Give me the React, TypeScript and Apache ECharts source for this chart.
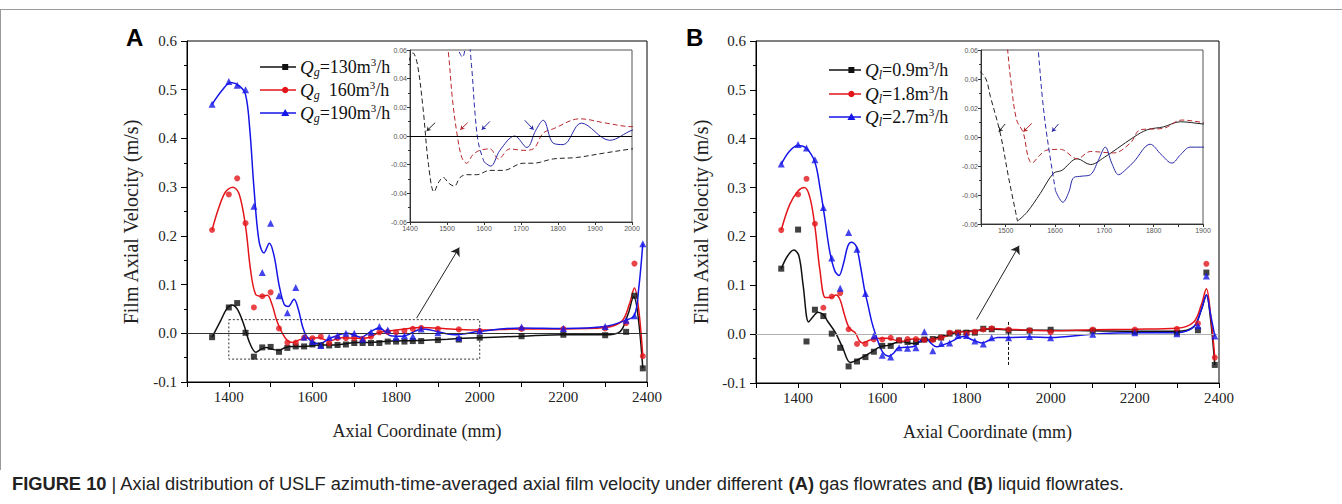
import React, { useEffect, useRef } from 'react';
import * as echarts from 'echarts';

// ---------- DATA ----------
const xPos = [1360, 1400, 1420, 1440, 1460, 1480, 1500, 1520, 1540, 1560, 1580, 1600, 1620, 1640, 1660, 1680, 1700, 1720, 1740, 1760, 1780, 1800, 1820, 1840, 1860, 1900, 1950, 2000, 2100, 2200, 2300, 2350, 2370, 2390];

// Panel A (gas flowrates) measured points
const blackA = [-0.008, 0.053, 0.062, 0.001, -0.048, -0.029, -0.028, -0.038, -0.030, -0.027, -0.027, -0.023, -0.025, -0.025, -0.024, -0.023, -0.020, -0.020, -0.020, -0.020, -0.017, -0.017, -0.017, -0.016, -0.016, -0.014, -0.013, -0.009, -0.006, -0.003, -0.004, 0.003, 0.077, -0.072];
const redA = [0.212, 0.285, 0.318, 0.226, 0.053, 0.076, 0.084, 0.010, -0.019, -0.019, -0.009, -0.010, -0.007, -0.020, -0.010, -0.010, -0.010, -0.012, -0.007, 0.002, 0.003, 0.002, 0.005, 0.009, 0.011, 0.009, 0.008, 0.005, 0.009, 0.009, 0.010, 0.021, 0.143, -0.047];
const blueA = [0.470, 0.517, 0.509, 0.500, 0.261, 0.125, 0.226, 0.077, 0.042, 0.094, -0.008, -0.017, -0.025, -0.008, -0.005, 0.000, 0.000, -0.012, 0.002, 0.014, 0.007, -0.008, -0.005, -0.006, 0.009, 0.001, -0.009, 0.005, 0.013, 0.010, 0.014, 0.027, 0.036, 0.184];

// Panel B (liquid flowrates) measured points
const blackB = [0.134, 0.214, -0.015, 0.050, 0.037, 0.001, -0.028, -0.066, -0.056, -0.047, -0.036, -0.024, -0.024, -0.013, -0.016, -0.016, -0.011, -0.010, -0.007, 0.001, 0.003, 0.003, 0.003, 0.011, 0.010, 0.007, 0.007, 0.009, 0.007, 0.005, 0.003, 0.008, 0.126, -0.063];
const redB = [0.213, 0.286, 0.318, 0.226, 0.054, 0.077, 0.084, 0.010, -0.020, -0.020, -0.011, -0.011, -0.0075, -0.012, -0.010, -0.010, -0.012, -0.012, -0.007, 0.003, 0.003, 0.001, 0.005, 0.0095, 0.012, 0.0095, 0.008, 0.004, 0.0095, 0.0095, 0.011, 0.022, 0.144, -0.048];
const blueB = [0.348, 0.388, 0.381, 0.357, 0.259, 0.156, 0.094, 0.208, 0.174, 0.083, -0.004, -0.043, -0.047, -0.028, -0.029, -0.028, 0.005, -0.034, -0.019, -0.018, -0.003, -0.003, -0.014, -0.020, -0.0075, -0.0075, -0.005, -0.0075, 0.000, 0.003, 0.001, 0.017, 0.119, -0.004];

// Fitted curves [x, v]
const blackFitA = [[1360, -0.008], [1380, 0.025], [1395, 0.05], [1408, 0.058], [1420, 0.05], [1435, 0.02], [1450, -0.02], [1465, -0.039], [1478, -0.032], [1490, -0.029], [1505, -0.033], [1520, -0.035], [1535, -0.029], [1553, -0.027], [1580, -0.027], [1616, -0.024], [1652, -0.024], [1706, -0.019], [1733, -0.019], [1787, -0.016], [1850, -0.015], [1923, -0.012], [2000, -0.009], [2100, -0.006], [2200, -0.003], [2300, -0.003], [2335, 0.003], [2355, 0.04], [2368, 0.075], [2378, 0.04], [2390, -0.072]];
const redFitA = [[1360, 0.212], [1375, 0.255], [1392, 0.290], [1410, 0.300], [1425, 0.285], [1440, 0.22], [1452, 0.13], [1464, 0.08], [1478, 0.076], [1492, 0.078], [1503, 0.06], [1515, 0.025], [1528, 0.0], [1540, -0.015], [1553, -0.019], [1570, -0.013], [1589, -0.010], [1616, -0.009], [1639, -0.016], [1670, -0.009], [1706, -0.010], [1733, -0.009], [1760, 0.002], [1787, 0.005], [1859, 0.012], [1930, 0.009], [2000, 0.0065], [2100, 0.009], [2200, 0.009], [2300, 0.012], [2340, 0.025], [2358, 0.06], [2370, 0.093], [2380, 0.05], [2390, -0.047]];
const blueFitA = [[1360, 0.470], [1385, 0.500], [1405, 0.515], [1425, 0.508], [1440, 0.49], [1450, 0.42], [1460, 0.30], [1472, 0.19], [1484, 0.165], [1497, 0.185], [1508, 0.16], [1520, 0.10], [1532, 0.06], [1542, 0.055], [1556, 0.07], [1566, 0.05], [1576, 0.015], [1585, -0.005], [1600, -0.018], [1618, -0.021], [1643, -0.010], [1683, 0.0], [1716, -0.008], [1740, 0.004], [1760, 0.011], [1787, -0.005], [1814, -0.006], [1863, 0.009], [1940, -0.003], [2000, 0.004], [2100, 0.011], [2200, 0.010], [2300, 0.014], [2350, 0.027], [2370, 0.037], [2380, 0.09], [2390, 0.184]];

const blackFitB = [[1360, 0.134], [1375, 0.16], [1390, 0.172], [1402, 0.16], [1412, 0.10], [1425, 0.025], [1435, 0.035], [1447, 0.045], [1460, 0.04], [1469, 0.028], [1489, 0.0026], [1506, -0.028], [1524, -0.058], [1543, -0.052], [1570, -0.039], [1597, -0.025], [1614, -0.023], [1645, -0.015], [1672, -0.019], [1700, -0.014], [1726, -0.008], [1760, 0.0], [1787, 0.005], [1820, 0.007], [1854, 0.0105], [1900, 0.009], [1950, 0.008], [2000, 0.008], [2100, 0.007], [2200, 0.006], [2300, 0.006], [2340, 0.015], [2358, 0.05], [2370, 0.08], [2380, 0.03], [2390, -0.063]];
const redFitB = [[1360, 0.213], [1380, 0.265], [1400, 0.293], [1415, 0.300], [1428, 0.28], [1440, 0.22], [1452, 0.13], [1465, 0.075], [1478, 0.075], [1490, 0.08], [1500, 0.07], [1510, 0.04], [1522, 0.012], [1536, 0.0026], [1545, -0.013], [1553, -0.018], [1568, -0.013], [1584, -0.009], [1611, -0.0085], [1645, -0.015], [1672, -0.010], [1719, -0.011], [1753, -0.004], [1773, 0.005], [1820, 0.006], [1857, 0.0117], [1900, 0.010], [1950, 0.008], [2000, 0.007], [2100, 0.009], [2200, 0.010], [2300, 0.012], [2340, 0.025], [2358, 0.06], [2370, 0.093], [2380, 0.04], [2390, -0.048]];
const blueFitB = [[1360, 0.348], [1380, 0.375], [1400, 0.386], [1420, 0.380], [1440, 0.352], [1452, 0.30], [1463, 0.24], [1475, 0.17], [1487, 0.13], [1497, 0.12], [1508, 0.145], [1518, 0.18], [1527, 0.188], [1538, 0.18], [1548, 0.14], [1558, 0.09], [1566, 0.06], [1575, 0.025], [1584, 0.0], [1601, -0.037], [1616, -0.045], [1628, -0.038], [1638, -0.028], [1655, -0.027], [1672, -0.026], [1688, -0.016], [1702, -0.007], [1715, -0.018], [1729, -0.026], [1745, -0.022], [1760, -0.017], [1793, -0.005], [1815, -0.012], [1837, -0.018], [1855, -0.012], [1874, -0.007], [1900, -0.007], [1950, -0.006], [2000, -0.007], [2100, 0.0], [2200, 0.003], [2300, 0.003], [2340, 0.015], [2358, 0.05], [2370, 0.08], [2380, 0.04], [2390, -0.004]];

// Annotations
const zoomBoxA = [[1400, 0.028], [2000, -0.053]];
const arrowA = [[1849, 0.031], [1951, 0.176]];
const arrowB = [[1824, 0.030], [1925, 0.181]];
const cutLineB = [[1900, -0.063], [1900, 0.028]];
const insetArrowsA = [[[1468, 0.0093], [1445, 0.0035]], [[1556, 0.0093], [1536, 0.0044]], [[1616, 0.0102], [1594, 0.0044]], [[1710, 0.011], [1734, 0.0044]]];
const insetArrowsB = [[[1499, 0.009], [1486, 0.0037]], [[1553, 0.0094], [1536, 0.0037]], [[1607, 0.009], [1594, 0.0037]]];

// Tick labels
const mainXLabels = [1400, 1600, 1800, 2000, 2200, 2400];
const insetAXLabels = [1400, 1500, 1600, 1700, 1800, 1900, 2000];
const insetBXLabels = [1500, 1600, 1700, 1800, 1900];

// Legends
const legendA = [{ sub: 'g', val: '=130' }, { sub: 'g', val: '  160' }, { sub: 'g', val: '=190' }];
const legendB = [{ sub: 'l', val: '=0.9' }, { sub: 'l', val: '=1.8' }, { sub: 'l', val: '=2.7' }];
const yTitle = 'Film Axial Velocity (m/s)';

// ---------- STYLE ----------
const SERIF = '"Liberation Serif", "Times New Roman", serif';
const SANS = '"Liberation Sans", Arial, sans-serif';
const C_BLACK = '#111111';
const C_RED = '#e3151a';
const C_BLUE = '#1515e8';
const CI_BLACK = '#222222';
const CI_RED = '#b8272b';
const CI_BLUE = '#2a2aa8';

function pts(vals: number[]) {
  return xPos.map((x, i) => [x, vals[i]]);
}

function splitAt(arr: number[][], at: number) {
  let k = arr.findIndex((p) => p[0] >= at);
  if (k < 0) k = arr.length - 1;
  return [arr.slice(0, k + 1), arr.slice(k)];
}

function mainXAxis(gridIndex: number) {
  return {
    type: 'value', gridIndex, min: 1300, max: 2400, interval: 100,
    name: 'Axial Coordinate (mm)', nameLocation: 'middle', nameGap: 40,
    nameTextStyle: { fontFamily: SERIF, fontSize: 18, color: '#222' },
    axisLine: { show: true, onZero: false, lineStyle: { color: '#000', width: 1 } },
    axisTick: { show: true, inside: false, length: 5, lineStyle: { color: '#000' } },
    axisLabel: { margin: 7, fontFamily: SERIF, fontSize: 15, color: '#222', formatter: (v: number) => (mainXLabels.includes(Math.round(v)) ? String(Math.round(v)) : '') },
    splitLine: { show: false },
  };
}
function mainYAxis(gridIndex: number) {
  return {
    type: 'value', gridIndex, min: -0.1, max: 0.6, interval: 0.1,
    axisLine: { show: true, onZero: false, lineStyle: { color: '#000', width: 1 } },
    axisTick: { show: true, inside: false, length: 6, lineStyle: { color: '#000' } },
    minorTick: { show: true, splitNumber: 2, length: 3, lineStyle: { color: '#000' } },
    axisLabel: { margin: 10, fontFamily: SERIF, fontSize: 15, color: '#222', formatter: (v: number) => v.toFixed(1) },
    splitLine: { show: false },
  };
}
function insetXAxis(gridIndex: number, min: number, max: number, interval: number, labels: number[]) {
  return {
    type: 'value', gridIndex, min, max, interval,
    axisLine: { show: true, onZero: false, lineStyle: { color: '#333', width: 1 } },
    axisTick: { show: true, inside: false, length: 3, lineStyle: { color: '#333' } },
    axisLabel: { margin: 3, fontFamily: SANS, fontSize: 7, color: '#555', formatter: (v: number) => (labels.includes(Math.round(v)) ? String(Math.round(v)) : '') },
    splitLine: { show: false },
  };
}
function insetYAxis(gridIndex: number) {
  return {
    type: 'value', gridIndex, min: -0.06, max: 0.06, interval: 0.02,
    axisLine: { show: true, onZero: false, lineStyle: { color: '#333', width: 1 } },
    axisTick: { show: true, inside: false, length: 3, lineStyle: { color: '#333' } },
    minorTick: { show: true, splitNumber: 2, length: 2, lineStyle: { color: '#333' } },
    axisLabel: { margin: 3, fontFamily: SANS, fontSize: 7, color: '#555', formatter: (v: number) => v.toFixed(2) },
    splitLine: { show: false },
  };
}

function fit(data: number[][], ax: number, color: string, width: number, type: any = 'solid', extra: any = {}) {
  return {
    type: 'line', xAxisIndex: ax, yAxisIndex: ax, data, showSymbol: false, symbol: 'none',
    smooth: 0.35, clip: true, silent: true, z: 3,
    lineStyle: { color, width, type },
    ...extra,
  };
}
function markers(vals: number[], ax: number, color: string, symbol: string, size: number) {
  return {
    type: 'scatter', xAxisIndex: ax, yAxisIndex: ax, data: pts(vals), symbol, symbolSize: size,
    itemStyle: { color }, z: 5, silent: true,
  };
}
function arrowsML(list: number[][][], color: string) {
  return {
    silent: true, symbol: ['none', 'arrow'], symbolSize: 4,
    lineStyle: { color, width: 1, type: 'solid' }, label: { show: false },
    data: list.map((a) => [{ coord: a[0] }, { coord: a[1] }]),
  };
}

function legendGraphics(x0: number, x1: number, tx: number, ys: number[], items: { sub: string; val: string }[]) {
  const colors = [C_BLACK, C_RED, C_BLUE];
  const out: any[] = [];
  items.forEach((it, i) => {
    const y = ys[i];
    const mx = x0 + (x1 - x0) * 0.7;
    out.push({ type: 'line', shape: { x1: x0, y1: y, x2: x1, y2: y }, style: { stroke: colors[i], lineWidth: 1.5 } });
    if (i === 0) out.push({ type: 'rect', shape: { x: mx - 3, y: y - 3, width: 6, height: 6 }, style: { fill: colors[i] } });
    if (i === 1) out.push({ type: 'circle', shape: { cx: mx, cy: y, r: 3.2 }, style: { fill: colors[i] } });
    if (i === 2) out.push({ type: 'polygon', shape: { points: [[mx, y - 4], [mx - 4, y + 3], [mx + 4, y + 3]] }, style: { fill: colors[i] } });
    out.push({
      type: 'text', x: tx, y,
      style: {
        text: `{q|Q}{s|${it.sub}}{n|${it.val}m}{p|3}{n|/h}`,
        verticalAlign: 'middle', align: 'left', fill: '#111',
        fontFamily: SERIF, fontSize: 18,
        rich: {
          q: { fontFamily: SERIF, fontSize: 19, fontStyle: 'italic', lineHeight: 21, fill: '#111' },
          s: { fontFamily: SERIF, fontSize: 12, fontStyle: 'italic', lineHeight: 8, verticalAlign: 'bottom', fill: '#111' },
          n: { fontFamily: SERIF, fontSize: 18, lineHeight: 21, fill: '#111' },
          p: { fontFamily: SERIF, fontSize: 11, lineHeight: 8, verticalAlign: 'top', fill: '#111' },
        },
      },
    });
  });
  return out;
}

export default function App() {
  const ref = useRef<HTMLDivElement>(null);
  useEffect(() => {
    document.body.style.margin = '0';
    if (!ref.current) return;
    const chart = echarts.init(ref.current, undefined, { renderer: 'svg' });

    const [bA1, bA2] = splitAt(blueFitA, 1600);
    const [kB1, kB2] = splitAt(blackFitB, 1524);
    const [bB1, bB2] = splitAt(blueFitB, 1601);

    const option: any = {
      animation: false,
      backgroundColor: '#fff',
      grid: [
        { left: 187, top: 41, width: 460, height: 341, show: true, borderColor: '#000', borderWidth: 1, backgroundColor: 'transparent' },
        { left: 410, top: 50, width: 222, height: 172, show: true, borderColor: '#555', borderWidth: 1, backgroundColor: '#fff' },
        { left: 756, top: 41, width: 463, height: 342, show: true, borderColor: '#000', borderWidth: 1, backgroundColor: 'transparent' },
        { left: 981, top: 50, width: 222, height: 174, show: true, borderColor: '#555', borderWidth: 1, backgroundColor: '#fff' },
      ],
      xAxis: [
        mainXAxis(0),
        insetXAxis(1, 1400, 2000, 100, insetAXLabels),
        mainXAxis(2),
        insetXAxis(3, 1450, 1900, 50, insetBXLabels),
      ],
      yAxis: [mainYAxis(0), insetYAxis(1), mainYAxis(2), insetYAxis(3)],
      series: [
        // Panel A main
        fit(blackFitA, 0, C_BLACK, 1.5, 'solid', {
          markLine: { silent: true, symbol: 'none', label: { show: false }, lineStyle: { color: '#333', width: 1, type: 'solid' }, data: [{ yAxis: 0 }] },
        }),
        fit(redFitA, 0, C_RED, 1.5, 'solid', {
          markLine: { silent: true, symbol: ['none', 'arrow'], symbolSize: 8, label: { show: false }, lineStyle: { color: '#222', width: 1, type: 'solid' }, data: [[{ coord: arrowA[0] }, { coord: arrowA[1] }]] },
        }),
        fit(blueFitA, 0, C_BLUE, 1.5, 'solid', {
          markArea: { silent: true, itemStyle: { color: 'rgba(0,0,0,0)', borderColor: '#333', borderWidth: 1, borderType: [2, 2] }, label: { show: false }, data: [[{ coord: zoomBoxA[0] }, { coord: zoomBoxA[1] }]] },
        }),
        markers(blackA, 0, C_BLACK, 'rect', 6),
        markers(redA, 0, C_RED, 'circle', 6),
        markers(blueA, 0, C_BLUE, 'triangle', 7),
        // Panel A inset
        fit(blackFitA, 1, CI_BLACK, 1, [5, 3], {
          markLine: { silent: true, symbol: 'none', label: { show: false }, lineStyle: { color: '#000', width: 1, type: 'solid' }, data: [{ yAxis: 0 }] },
        }),
        fit(redFitA, 1, CI_RED, 1, [5, 3]),
        fit(bA1, 1, CI_BLUE, 1, [5, 3]),
        fit(bA2, 1, CI_BLUE, 1, 'solid'),
        { type: 'line', xAxisIndex: 1, yAxisIndex: 1, data: [], markLine: arrowsML(insetArrowsA.slice(0, 1), CI_BLACK) },
        { type: 'line', xAxisIndex: 1, yAxisIndex: 1, data: [], markLine: arrowsML(insetArrowsA.slice(1, 2), CI_RED) },
        { type: 'line', xAxisIndex: 1, yAxisIndex: 1, data: [], markLine: arrowsML(insetArrowsA.slice(2), CI_BLUE) },
        // Panel B main
        fit(blackFitB, 2, C_BLACK, 1.5, 'solid', {
          markLine: { silent: true, symbol: 'none', label: { show: false }, lineStyle: { color: '#b0b0b0', width: 1, type: 'solid' }, data: [{ yAxis: 0 }] },
        }),
        fit(redFitB, 2, C_RED, 1.5, 'solid', {
          markLine: { silent: true, symbol: ['none', 'arrow'], symbolSize: 8, label: { show: false }, lineStyle: { color: '#222', width: 1, type: 'solid' }, data: [[{ coord: arrowB[0] }, { coord: arrowB[1] }]] },
        }),
        fit(blueFitB, 2, C_BLUE, 1.5, 'solid', {
          markLine: { silent: true, symbol: 'none', label: { show: false }, lineStyle: { color: '#111', width: 1, type: [3, 2] }, data: [[{ coord: cutLineB[0] }, { coord: cutLineB[1] }]] },
        }),
        markers(blackB, 2, C_BLACK, 'rect', 6),
        markers(redB, 2, C_RED, 'circle', 6),
        markers(blueB, 2, C_BLUE, 'triangle', 7),
        // Panel B inset
        fit(kB1, 3, CI_BLACK, 1, [5, 3]),
        fit(kB2, 3, CI_BLACK, 1, 'solid'),
        fit(redFitB, 3, CI_RED, 1, [5, 3]),
        fit(bB1, 3, CI_BLUE, 1, [5, 3]),
        fit(bB2, 3, CI_BLUE, 1, 'solid'),
        { type: 'line', xAxisIndex: 3, yAxisIndex: 3, data: [], markLine: arrowsML(insetArrowsB.slice(0, 1), CI_BLACK) },
        { type: 'line', xAxisIndex: 3, yAxisIndex: 3, data: [], markLine: arrowsML(insetArrowsB.slice(1, 2), CI_RED) },
        { type: 'line', xAxisIndex: 3, yAxisIndex: 3, data: [], markLine: arrowsML(insetArrowsB.slice(2), CI_BLUE) },
      ],
      graphic: [
        { type: 'line', shape: { x1: 0, y1: 9.5, x2: 1342, y2: 9.5 }, style: { stroke: '#9a9a9a', lineWidth: 1 } },
        { type: 'line', shape: { x1: 0.5, y1: 9, x2: 0.5, y2: 470 }, style: { stroke: '#9a9a9a', lineWidth: 1 } },
        { type: 'text', x: 126, y: 25, style: { text: 'A', fontFamily: SANS, fontWeight: 'bold', fontSize: 24, fill: '#000' } },
        { type: 'text', x: 686, y: 25, style: { text: 'B', fontFamily: SANS, fontWeight: 'bold', fontSize: 24, fill: '#000' } },
        { type: 'text', x: 131, y: 222, rotation: Math.PI / 2, style: { text: yTitle, fontFamily: SERIF, fontSize: 20, fill: '#222', align: 'center', verticalAlign: 'middle' } },
        { type: 'text', x: 701, y: 222, rotation: Math.PI / 2, style: { text: yTitle, fontFamily: SERIF, fontSize: 20, fill: '#222', align: 'center', verticalAlign: 'middle' } },
        ...legendGraphics(260, 296, 300, [67, 90, 113], legendA),
        ...legendGraphics(829, 861, 865, [70, 94, 117], legendB),
        {
          type: 'text', x: 12, y: 483,
          style: {
            text: '{b|FIGURE 10} | Axial distribution of USLF azimuth-time-averaged axial film velocity under different {b|(A)} gas flowrates and {b|(B)} liquid flowrates.',
            fontFamily: SANS, fontSize: 18.3, fill: '#222', verticalAlign: 'middle',
            rich: { b: { fontFamily: SANS, fontSize: 18.3, fontWeight: 'bold', fill: '#222' } },
          },
        },
      ],
    };
    chart.setOption(option);
    return () => chart.dispose();
  }, []);
  return <div ref={ref} style={{ width: 1342, height: 504 }} />;
}
